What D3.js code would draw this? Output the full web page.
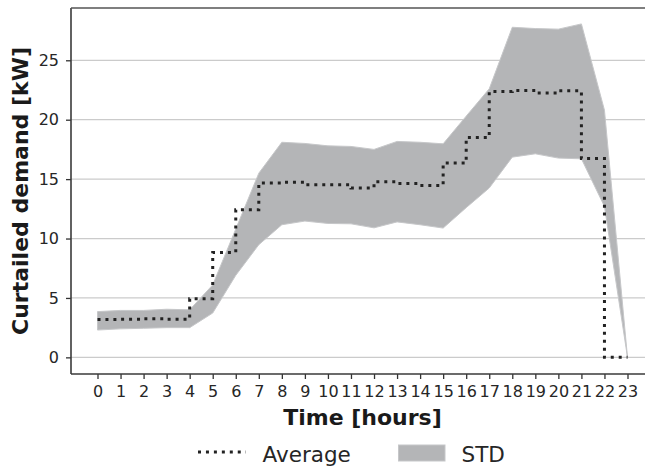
<!DOCTYPE html>
<html>
<head>
<meta charset="utf-8">
<script src="https://cdn.jsdelivr.net/npm/d3@7"></script>
<style>
  body { margin: 0; background: #fff; }
  svg { display: block; font-family: 'DejaVu Sans', sans-serif; }
</style>
</head>
<body>
<div id="chart"></div>
<script>
const width = 645;
const height = 467;

const hours = d3.range(0, 24);
const average = [3.18, 3.18, 3.2, 3.25, 3.2, 4.94, 8.83, 12.42, 14.67, 14.73, 14.52, 14.52,
  14.25, 14.78, 14.63, 14.47, 16.35, 18.5, 22.37, 22.45, 22.24, 22.43, 16.74, 0];
const stdUpper = [3.85, 3.95, 3.95, 4.05, 4.0, 6.1, 10.8, 15.5, 18.1, 18.0, 17.8, 17.75,
  17.5, 18.17, 18.1, 17.97, 20.3, 22.6, 27.78, 27.67, 27.62, 28.06, 20.8, 0];
const stdLower = [2.3, 2.4, 2.45, 2.5, 2.5, 3.73, 6.9, 9.48, 11.16, 11.47, 11.27, 11.24,
  10.9, 11.4, 11.16, 10.88, 12.6, 14.25, 16.85, 17.13, 16.77, 16.71, 12.7, 0];
const yTicks = [0, 5, 10, 15, 20, 25];

const margin = { left: 71, top: 8, right: 654, bottom: 374 };

const svg = d3.select('#chart').append('svg').attr('width', width).attr('height', height);

const x = d3.scaleLinear().domain([-1.15, 24.15]).range([margin.left, margin.right]);
const y = d3.scaleLinear().domain([-1.4, 29.4]).range([margin.bottom, margin.top]);

// grid
svg.append('g')
  .selectAll('line')
  .data(yTicks)
  .join('line')
  .attr('x1', margin.left)
  .attr('x2', margin.right)
  .attr('y1', (d) => y(d))
  .attr('y2', (d) => y(d))
  .attr('stroke', '#cbcbcb')
  .attr('stroke-width', 1.3);

const rows = hours.map((h, i) => ({ h, avg: average[i], lo: stdLower[i], hi: stdUpper[i] }));

// std band
const area = d3.area()
  .x((d) => x(d.h))
  .y0((d) => y(d.lo))
  .y1((d) => y(d.hi));

svg.append('path')
  .datum(rows)
  .attr('fill', '#b4b5b7')
  .attr('stroke', '#c6c7c9')
  .attr('stroke-width', 1)
  .attr('d', area);

// average, steps-pre
const line = d3.line()
  .x((d) => x(d.h))
  .y((d) => y(d.avg))
  .curve(d3.curveStepBefore);

svg.append('path')
  .datum(rows)
  .attr('fill', 'none')
  .attr('stroke', '#222')
  .attr('stroke-width', 3)
  .attr('stroke-dasharray', '3 4.95')
  .attr('d', line);

// axes
const xAxis = d3.axisBottom(x).tickValues(hours).tickSize(5).tickPadding(7).tickFormat(d3.format('d'));
const yAxis = d3.axisLeft(y).tickValues(yTicks).tickSize(5).tickPadding(7);

const gx = svg.append('g').attr('transform', `translate(0, ${margin.bottom})`).call(xAxis);
const gy = svg.append('g').attr('transform', `translate(${margin.left}, 0)`).call(yAxis);

[gx, gy].forEach((g) => {
  g.select('.domain').remove();
  g.selectAll('line').attr('stroke', '#333').attr('stroke-width', 1.3);
  g.selectAll('text').attr('fill', '#262626').style('font-size', '16px').style('font-family', 'DejaVu Sans');
});

// spines
svg.append('line')
  .attr('x1', margin.left).attr('x2', margin.left)
  .attr('y1', margin.top).attr('y2', margin.bottom)
  .attr('stroke', '#3a3a3a').attr('stroke-width', 1.6);
svg.append('line')
  .attr('x1', margin.left).attr('x2', margin.right)
  .attr('y1', margin.bottom).attr('y2', margin.bottom)
  .attr('stroke', '#3a3a3a').attr('stroke-width', 1.6);
svg.append('line')
  .attr('x1', margin.left).attr('x2', margin.right)
  .attr('y1', margin.top).attr('y2', margin.top)
  .attr('stroke', '#555').attr('stroke-width', 1.6);

// axis titles
svg.append('text')
  .attr('x', (margin.left + margin.right) / 2)
  .attr('y', 425)
  .attr('text-anchor', 'middle')
  .attr('fill', '#1a1a1a')
  .style('font-size', '22px')
  .style('font-weight', 'bold')
  .text('Time [hours]');

svg.append('text')
  .attr('transform', `translate(28, ${(margin.top + margin.bottom) / 2}) rotate(-90)`)
  .attr('text-anchor', 'middle')
  .attr('fill', '#1a1a1a')
  .style('font-size', '22px')
  .style('font-weight', 'bold')
  .text('Curtailed demand [kW]');

// legend
const legend = svg.append('g');
legend.append('line')
  .attr('x1', 198).attr('x2', 246)
  .attr('y1', 452).attr('y2', 452)
  .attr('stroke', '#222')
  .attr('stroke-width', 3)
  .attr('stroke-dasharray', '3 4.95');
legend.append('text')
  .attr('x', 262.5).attr('y', 461.5)
  .attr('fill', '#262626')
  .style('font-size', '21.5px')
  .text('Average');
legend.append('rect')
  .attr('x', 398.5).attr('y', 445)
  .attr('width', 46.5).attr('height', 16)
  .attr('fill', '#b4b5b7')
  .attr('stroke', '#c6c7c9');
legend.append('text')
  .attr('x', 461.5).attr('y', 461.5)
  .attr('fill', '#262626')
  .style('font-size', '21.5px')
  .text('STD');
</script>
</body>
</html>
